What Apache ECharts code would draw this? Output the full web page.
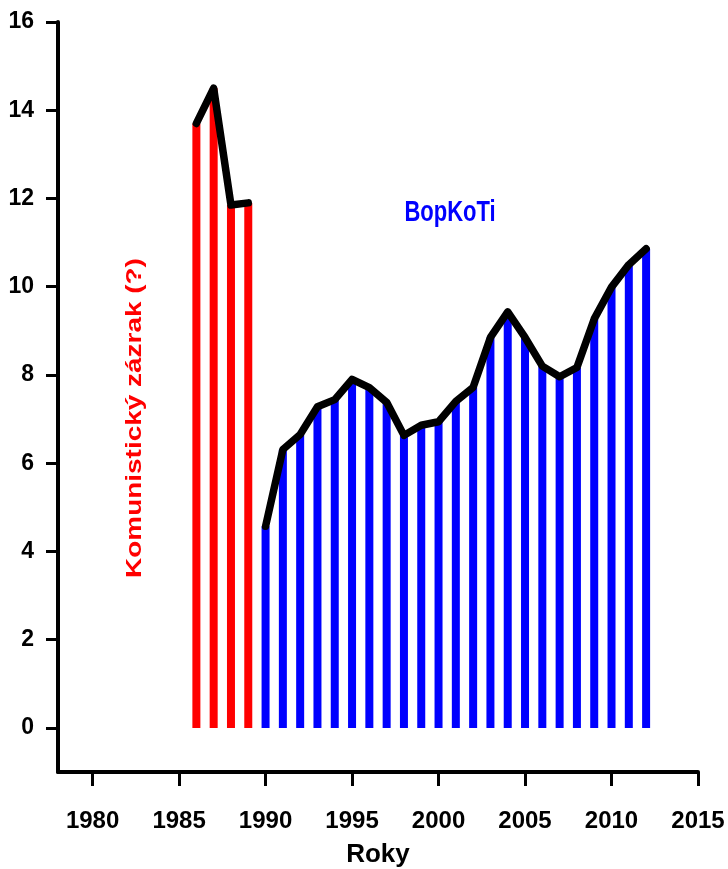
<!DOCTYPE html>
<html>
<head>
<meta charset="utf-8">
<script src="https://cdn.jsdelivr.net/npm/echarts@6/dist/echarts.min.js"></script>
<style>html,body{margin:0;padding:0;background:#fff;}#c{width:728px;height:869px;}</style>
</head>
<body>
<div id="c"></div>
<script>
const redYears = [1986, 1987, 1988, 1989];
const redValues = [13.7, 14.5, 11.85, 11.9];
const blueYears = [1990, 1991, 1992, 1993, 1994, 1995, 1996, 1997, 1998, 1999, 2000, 2001, 2002, 2003, 2004, 2005, 2006, 2007, 2008, 2009, 2010, 2011, 2012];
const blueValues = [4.57, 6.31, 6.65, 7.28, 7.44, 7.9, 7.71, 7.38, 6.63, 6.86, 6.94, 7.4, 7.72, 8.85, 9.43, 8.85, 8.2, 7.96, 8.17, 9.27, 9.99, 10.5, 10.86];
const xTicks = [1980, 1985, 1990, 1995, 2000, 2005, 2010, 2015];
const yTicks = [0, 2, 4, 6, 8, 10, 12, 14, 16];
const xName = 'Roky';
const redLabel = 'Komunistický zázrak (?)';
const blueLabel = 'BopKoTi';

const pairs = (xs, vs) => xs.map((x, i) => [x, vs[i]]);
const FONT = 'Liberation Sans';

const chart = echarts.init(document.getElementById('c'));
chart.setOption({
  animation: false,
  grid: { left: 58, right: 30, top: 22, bottom: 97, outerBoundsMode: 'none', containLabel: false },
  xAxis: {
    type: 'value', min: 1978, max: 2015,
    name: xName, nameLocation: 'middle', nameGap: 70,
    nameTextStyle: { fontFamily: FONT, fontWeight: 'bold', fontSize: 26, color: '#000' },
    splitLine: { show: false },
    axisLine: { show: true, onZero: false, lineStyle: { color: '#000', width: 4 } },
    axisTick: { show: true, length: 14, customValues: xTicks, lineStyle: { color: '#000', width: 3 } },
    axisLabel: { customValues: xTicks, margin: 37, formatter: v => String(v), fontFamily: FONT, fontWeight: 'bold', fontSize: 24, color: '#000' }
  },
  yAxis: {
    type: 'value', min: -1, max: 16,
    splitLine: { show: false },
    axisLine: { show: true, onZero: false, lineStyle: { color: '#000', width: 4 } },
    axisTick: { show: true, length: 12, customValues: yTicks, lineStyle: { color: '#000', width: 3 } },
    axisLabel: { customValues: yTicks, margin: 24, fontFamily: FONT, fontWeight: 'bold', fontSize: 23, color: '#000' }
  },
  series: [
    { type: 'bar', data: pairs(redYears, redValues), barWidth: 8, itemStyle: { color: '#ff0000' }, z: 2 },
    { type: 'bar', data: pairs(blueYears, blueValues), barWidth: 8, barGap: '-100%', itemStyle: { color: '#0000ff' }, z: 2 },
    { type: 'line', data: pairs(redYears, redValues), symbol: 'none', lineStyle: { color: '#000', width: 7.5, cap: 'round', join: 'round' }, z: 5 },
    { type: 'line', data: pairs(blueYears, blueValues), symbol: 'none', lineStyle: { color: '#000', width: 7.5, cap: 'round', join: 'round' }, z: 5 }
  ],
  graphic: [
    { type: 'text', x: 135, y: 418, rotation: Math.PI / 2, scaleX: 1.27,
      style: { text: redLabel, fill: '#ff0000', fontFamily: FONT, fontWeight: 'bold', fontSize: 22, align: 'center', verticalAlign: 'middle' } },
    { type: 'text', x: 450, y: 213, scaleY: 1.3,
      style: { text: blueLabel, fill: '#0000ff', fontFamily: FONT, fontWeight: 'bold', fontSize: 22, align: 'center', verticalAlign: 'middle' } }
  ]
});
</script>
</body>
</html>
